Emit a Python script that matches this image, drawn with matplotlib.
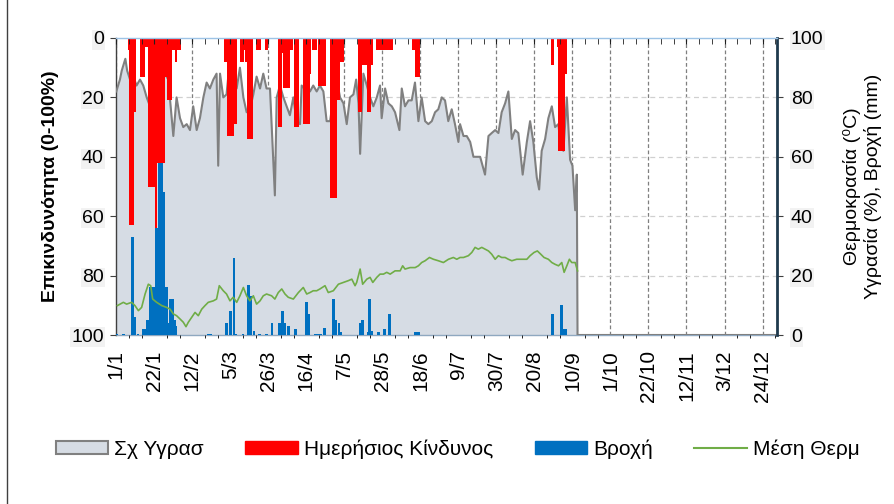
import matplotlib
matplotlib.use("Agg")
import matplotlib.pyplot as plt
from matplotlib.patches import Patch
from matplotlib.lines import Line2D
from matplotlib.ticker import MultipleLocator

plt.rcParams['font.family'] = ['Liberation Sans', 'DejaVu Sans']

# ---- data (day of year index, 0 = 1/1) ----
tick_days = [0, 21, 42, 63, 84, 105, 126, 147, 168, 189, 210, 231, 252, 273, 294, 315, 336, 357]
tick_labels = ['1/1', '22/1', '12/2', '5/3', '26/3', '16/4', '7/5', '28/5', '18/6', '9/7',
               '30/7', '20/8', '10/9', '1/10', '22/10', '12/11', '3/12', '24/12']

# Σχ Υγρασ (relative humidity %, right axis)
humidity_pts = [(0, 82), (2, 86), (3, 89), (5, 93), (6, 89), (7.6, 86), (9.4, 87), (11.2, 84), (13.1, 86),
                (14.9, 84), (16.8, 80), (18.6, 77), (20.4, 85), (22.3, 87), (24.1, 86), (26.8, 88), (28.7, 86),
                (31.5, 67), (33.3, 80), (35.2, 73), (37, 70), (38.9, 71), (40.7, 69), (42.5, 77), (44.4, 69),
                (46.2, 73), (48.1, 80), (49.9, 85), (51.7, 83), (53.6, 86), (55.4, 88), (56.3, 57), (57.3, 88),
                (59.1, 80), (60.9, 81), (62.8, 93), (66.5, 83), (68.3, 90), (70.2, 80), (72, 75), (73.8, 76),
                (75.7, 81), (77.5, 87), (79.4, 83), (81.2, 88), (83, 83), (84.9, 83), (87.6, 47), (88.6, 80),
                (90.4, 84), (92.3, 80), (94.1, 77), (95.9, 74), (97.8, 80), (99.6, 72), (101.5, 71), (102.4, 84),
                (105.2, 82), (107, 82), (108.8, 84), (110.7, 82), (112.5, 84), (114.4, 82), (116.2, 72),
                (118.1, 72), (119.9, 80), (121.8, 86), (123.6, 80), (125.5, 78), (127.3, 71), (129.1, 80),
                (131, 81), (132.5, 86), (133.8, 78), (134.7, 61), (136.5, 88), (138.4, 84), (140.2, 80),
                (142, 77), (143.9, 80), (145.7, 84), (146.6, 73), (148.5, 83), (150.3, 78), (152.2, 77),
                (154, 75), (156.4, 69), (157.7, 83), (159.5, 77), (161.4, 79), (163.2, 79), (165, 85),
                (166.9, 72), (168.7, 80), (170.6, 72), (172.4, 71), (174.3, 72), (176.1, 75), (177.9, 76),
                (179.8, 80), (181.6, 79), (183.4, 72), (185.3, 76), (187.1, 71), (189, 65), (189.9, 71),
                (191.8, 67), (193.6, 67), (195.5, 65), (197.3, 60), (199.1, 60), (201, 60), (203.7, 54),
                (205.6, 67), (207.4, 68), (209.3, 69), (211.1, 68), (212.9, 75), (214.8, 78), (216.6, 82),
                (218.5, 66), (220.3, 69), (222.1, 68), (224.5, 54), (226.8, 65), (228.6, 72), (230.4, 65),
                (232.3, 53), (233.6, 49), (235, 62), (236.9, 66), (238.7, 73), (240.6, 77), (242.4, 70),
                (244.2, 71), (245.5, 64), (247, 62), (248.9, 80), (250.7, 59), (252, 57), (253.5, 42),
                (254.4, 54), (254.8, 0), (365, 0)]

# Μέση Θερμ (mean temperature °C, right axis)
temperature_pts = [(0.6, 9.9), (3.9, 11.0), (5.7, 10.4), (8.5, 11.0), (10.3, 9.9), (12.2, 8.2), (14, 9.3),
                   (15.9, 13.8), (17.7, 17.1), (19, 16.6), (20.1, 12.1), (22.3, 11.0), (25.1, 9.9), (27.8, 9.3),
                   (29.7, 8.7), (31.5, 7.1), (33.3, 6.5), (35.2, 5.4), (37, 4.3), (38.5, 2.8), (39.8, 4.3),
                   (41.6, 5.9), (43.5, 7.6), (45.3, 6.5), (47.2, 8.7), (49, 9.9), (50.8, 11.0), (53.6, 11.5),
                   (55.4, 12.1), (56.9, 16.6), (59.1, 14.9), (60.9, 13.8), (62.8, 11.5), (64.6, 12.7),
                   (66.5, 11.0), (68.3, 13.2), (70.2, 16.0), (72, 13.2), (73.8, 11.5), (75.7, 13.2),
                   (77.5, 10.4), (79.4, 11.5), (81.2, 13.2), (83, 13.8), (85.8, 13.2), (87.6, 12.1),
                   (89.5, 14.3), (91.4, 15.5), (93.2, 13.8), (95, 12.7), (97.8, 12.1), (100.6, 14.3),
                   (103.3, 16.0), (105.2, 13.8), (107, 14.3), (108.8, 14.9), (110.7, 14.9), (112.5, 15.5),
                   (115.3, 16.6), (117.1, 14.3), (119.9, 14.9), (122.7, 17.1), (125.5, 17.7), (128.2, 18.3),
                   (130.1, 18.8), (131.9, 16.6), (132.8, 17.7), (134.7, 22.2), (136.1, 17.1), (138.4, 18.8),
                   (140.2, 19.4), (141.7, 17.7), (143.9, 19.4), (145.7, 20.5), (147.6, 20.5), (149.4, 21.1),
                   (151.3, 20.5), (154, 21.6), (156.8, 21.6), (158.2, 23.3), (159.5, 22.2), (162.3, 22.7),
                   (165.1, 22.7), (166.9, 23.3), (168.7, 24.4), (170.6, 25.0), (173, 26.1), (175.2, 25.5),
                   (177.9, 25.0), (180.7, 24.4), (183.5, 25.5), (186.2, 26.1), (188.1, 25.5), (189.9, 26.1),
                   (191.8, 26.1), (194.5, 26.7), (196.4, 27.8), (198.2, 29.5), (200, 28.9), (201.9, 29.5),
                   (203.7, 28.9), (205.6, 28.3), (207.4, 27.2), (209.3, 25.5), (211.1, 26.7), (212.9, 26.1),
                   (214.8, 26.1), (216.6, 25.5), (218.5, 25.0), (221.2, 25.5), (224, 25.5), (226.8, 25.5),
                   (228.6, 26.7), (230.8, 27.8), (232.6, 28.3), (234.5, 27.2), (236.3, 26.1), (238.7, 25.5),
                   (240.6, 24.4), (242.4, 23.8), (244.3, 23.3), (246.1, 24.4), (247.4, 21.1), (248.9, 23.3),
                   (250.3, 25.5), (251.6, 24.4), (253.5, 24.4), (254.8, 21.6)]

# Ημερήσιος Κίνδυνος (daily risk 0-100 %, left inverted axis)
risk_pts = [(7, 4), (8, 63), (9, 63), (10, 25), (14, 13), (15, 13), (16, 3), (17, 3), (18, 50), (19, 50),
            (20, 50), (21, 50), (22, 65), (23, 42), (24, 42), (25, 42), (26, 42), (27, 13), (28, 13), (29, 21),
            (30, 21), (31, 4), (32, 4), (33, 8), (34, 4), (35, 4),
            (60, 8), (61, 8), (62, 33), (63, 33), (64, 33), (65, 29), (66, 29), (69, 8), (70, 8), (71, 4),
            (72, 8), (73, 34), (74, 34), (75, 34), (78, 4), (79, 4), (83, 4),
            (90, 30), (91, 30), (92, 5), (93, 17), (94, 17), (95, 17), (96, 4), (97, 4), (99, 30), (100, 30),
            (104, 29), (105, 29), (106, 29), (107, 12), (109, 4), (110, 4), (112, 16), (113, 16), (114, 16),
            (115, 16), (119, 54), (120, 54), (121, 54), (122, 21), (123, 21), (124, 8), (125, 8),
            (134, 25), (135, 25), (136, 9), (137, 9), (138, 9), (139, 25), (140, 25), (141, 9),
            (144, 4), (145, 4), (146, 4), (147, 4), (148, 4), (149, 4), (150, 4), (151, 4), (152, 4),
            (164, 4), (165, 4), (166, 13), (167, 13),
            (241, 9), (244, 3), (245, 38), (246, 38), (247, 38), (248, 12)]

# Βροχή (rain mm, right axis)
rain_pts = [(0, 0.4), (4, 0.4), (9, 33), (10, 6), (12, 0.4), (15, 2), (16, 2), (17, 5), (18, 5), (19, 16),
            (20, 16), (21, 16), (22, 36), (23, 36), (24, 58), (25, 58), (26, 48), (27, 16), (28, 16), (29, 4),
            (30, 12), (31, 12), (32, 5), (33, 3),
            (51, 0.5), (52, 0.5), (61, 4), (63, 8), (65, 26), (66, 0.5), (70, 0.5), (73, 17), (74, 13),
            (76, 1.5), (79, 0.5), (83, 0.5), (86, 4), (90, 4), (92, 8), (93, 4), (95, 3), (99, 2), (105, 11),
            (106, 7), (110, 0.5), (111, 0.5), (112, 0.5), (113, 0.5), (115, 2.5), (120, 12), (121, 5),
            (123, 4), (124, 1), (135, 4), (136, 5), (139, 1), (140, 12), (141, 1.5), (145, 1), (148, 2),
            (151, 7), (165, 1), (166, 1), (167, 1), (241, 7), (246, 10), (247, 2), (248, 2)]

series_names = ['Σχ Υγρασ', 'Ημερήσιος Κίνδυνος', 'Βροχή', 'Μέση Θερμ']

# ---- colours ----
c_area = '#D6DCE4'
c_hline = '#808080'
c_risk = '#FF0000'
c_rain = '#0070C0'
c_temp = '#70AD47'

fig = plt.figure(figsize=(8.94, 5.04), dpi=100)
rect = [116.3 / 894, 1 - 335 / 504, (777 - 116.3) / 894, (335 - 38) / 504]

ax_bg = fig.add_axes(rect, label='bg', zorder=1)
ax_risk = fig.add_axes(rect, label='risk', sharex=ax_bg, zorder=2)
ax_fg = fig.add_axes(rect, label='fg', sharex=ax_bg, zorder=3)
for a in (ax_risk, ax_fg):
    a.patch.set_visible(False)

ax_bg.set_xlim(0, 365)
for a in (ax_bg, ax_fg):
    a.set_ylim(0, 100)
ax_risk.set_ylim(100, 0)

# background: grid + humidity area
ax_bg.set_xticks(tick_days)
ax_bg.set_xticklabels(tick_labels, rotation=90, fontsize=15)
ax_bg.set_yticks([20, 40, 60, 80])
ax_bg.tick_params(axis='y', left=False, labelleft=False, right=False)
ax_bg.tick_params(axis='x', bottom=True, length=0, pad=11, top=False)
ax_bg.grid(axis='y', color='#D0D0D0', linestyle=(0, (4, 3)), linewidth=0.9)
ax_bg.grid(axis='x', color='#7F7F7F', linestyle=(0, (3, 2)), linewidth=0.9)
ax_bg.set_axisbelow(True)

hd = [p[0] for p in humidity_pts]
hv = [p[1] for p in humidity_pts]
ax_bg.fill_between(hd, 0, hv, color=c_area, linewidth=0, zorder=2)
ax_bg.plot(hd, hv, color=c_hline, linewidth=1.5, zorder=3)

for s in ('top', 'right'):
    ax_bg.spines[s].set_visible(False)
ax_bg.spines['left'].set_color('#404040')
ax_bg.spines['left'].set_linewidth(1.0)
ax_bg.spines['bottom'].set_color('#8FA8C0')
ax_bg.spines['bottom'].set_linewidth(1.0)

# risk bars (left, inverted)
ax_risk.bar([p[0] for p in risk_pts], [p[1] for p in risk_pts], width=1.5, color=c_risk,
            linewidth=0, bottom=0, zorder=2)
ax_risk.set_yticks([0, 20, 40, 60, 80, 100])
ax_risk.tick_params(axis='y', labelsize=14, left=True, length=4, color='#404040', pad=5,
                    right=False, labelright=False)
ax_risk.tick_params(axis='x', bottom=False, labelbottom=False, top=False)
for s in ax_risk.spines.values():
    s.set_visible(False)
ax_risk.set_ylabel('Επικινδυνότητα (0-100%)', fontsize=14, fontweight='bold', labelpad=9)
for lbl in ax_risk.get_yticklabels():
    lbl.set_bbox(dict(facecolor='#F2F2F2', edgecolor='none', pad=1))

# rain bars + temperature (right axis)
ax_fg.bar([p[0] for p in rain_pts], [p[1] for p in rain_pts], width=1.5, color=c_rain,
          linewidth=0, zorder=2)
ax_fg.plot([p[0] for p in temperature_pts], [p[1] for p in temperature_pts], color=c_temp,
           linewidth=1.2, zorder=3)
ax_fg.yaxis.tick_right()
ax_fg.yaxis.set_label_position('right')
ax_fg.set_yticks([0, 20, 40, 60, 80, 100])
ax_fg.tick_params(axis='y', labelsize=14, right=True, left=False, labelleft=False, length=4,
                  color='#404040', pad=6)
ax_fg.xaxis.set_minor_locator(MultipleLocator(7))
ax_fg.tick_params(axis='x', which='both', bottom=False, labelbottom=False, top=True,
                  direction='in', length=4, color='#202020')
for lbl in ax_fg.get_yticklabels():
    lbl.set_bbox(dict(facecolor='#F2F2F2', edgecolor='none', pad=1))
ax_fg.spines['left'].set_visible(False)
ax_fg.spines['bottom'].set_visible(False)
ax_fg.spines['top'].set_color('#9DC3E6')
ax_fg.spines['top'].set_linewidth(1.0)
ax_fg.spines['right'].set_color('#1F3A4D')
ax_fg.spines['right'].set_linewidth(2.0)
ax_fg.set_ylabel('Θερμοκρασία (\u2070C)\nΥγρασία (%), Βροχή (mm)', fontsize=14, labelpad=14,
                 linespacing=1.2)
ax_bg.tick_params(axis='x', which='minor', bottom=False, top=False)

# legend
handles = [Patch(facecolor=c_area, edgecolor=c_hline, linewidth=1.5),
           Patch(facecolor=c_risk, edgecolor=c_risk),
           Patch(facecolor=c_rain, edgecolor=c_rain),
           Line2D([0], [0], color=c_temp, linewidth=1.5)]
fig.legend(handles, series_names, loc='center', bbox_to_anchor=(0.512, 1 - 449 / 504), ncol=4,
           frameon=False, fontsize=15, handlelength=2.5, handleheight=0.6, handletextpad=0.3,
           columnspacing=2.0)

# chart area border (left edge visible in the reference)
fig.add_artist(Line2D([7 / 894, 7 / 894], [0, 1], transform=fig.transFigure, color='#404040',
                      linewidth=1.0))

fig.savefig('out.png', dpi=100)
